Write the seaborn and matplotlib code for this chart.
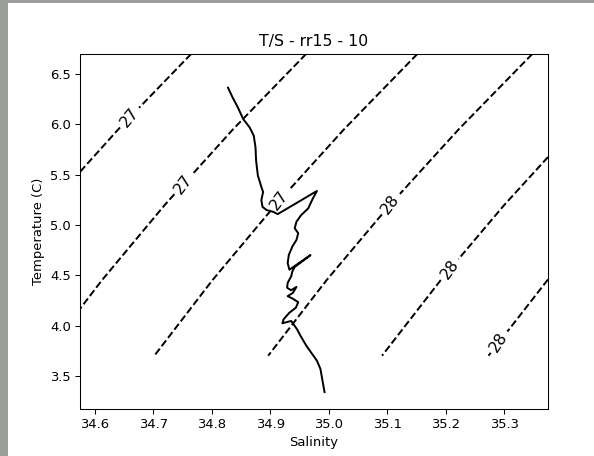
import numpy as np
import matplotlib
matplotlib.use("Agg")
import matplotlib.pyplot as plt
from matplotlib.patches import Rectangle
import seaborn as sns

# ---- profile data ----
salinity = [34.828, 34.836, 34.845, 34.854, 34.865, 34.872, 34.875, 34.876, 34.879,
            34.885, 34.888, 34.885, 34.887, 34.894, 34.905, 34.913, 34.980, 34.973,
            34.965, 34.953, 34.945, 34.942, 34.948, 34.945, 34.938, 34.932, 34.930,
            34.933, 34.969, 34.942, 34.938, 34.936, 34.930, 34.929, 34.936, 34.945,
            34.939, 34.930, 34.939, 34.948, 34.944, 34.933, 34.923, 34.921, 34.929,
            34.936, 34.942, 34.946, 34.952, 34.962, 34.972, 34.980, 34.986, 34.989,
            34.993]
temperature = [6.365, 6.266, 6.167, 6.053, 5.970, 5.888, 5.772, 5.641, 5.493,
               5.378, 5.328, 5.246, 5.180, 5.148, 5.131, 5.108, 5.338, 5.263,
               5.164, 5.098, 5.032, 4.967, 4.918, 4.851, 4.785, 4.703, 4.621,
               4.555, 4.700, 4.582, 4.538, 4.489, 4.424, 4.375, 4.351, 4.384,
               4.325, 4.292, 4.266, 4.232, 4.177, 4.128, 4.062, 4.022, 4.035,
               4.045, 3.996, 3.963, 3.897, 3.798, 3.716, 3.650, 3.568, 3.469,
               3.338]

# ---- density grid extent and contour levels ----
grid_salinity = [34.575, 34.675, 34.775, 34.875, 34.975, 35.075, 35.175, 35.275, 35.375]
grid_temperature = [3.70, 4.45, 5.20, 5.95, 6.70]
sigma_levels = [27.275, 27.43, 27.58, 27.735, 27.89, 28.035]
sigma_labels = ["27", "27", "27", "28", "28", "28"]

title = "T/S - rr15 - 10"
xlabel = "Salinity"
ylabel = "Temperature (C)"

# where the contour labels sit (salinity, temperature)
label_spots = [(34.660, 6.066), (34.750, 5.414), (34.916, 5.246),
               (35.109, 5.197), (35.207, 4.555), (35.297, 3.815)]


def sigma_t(S, T):
    """UNESCO (1981) density of seawater at p=0, minus 1000."""
    rw = (999.842594 + 6.793952e-2 * T - 9.095290e-3 * T**2 + 1.001685e-4 * T**3
          - 1.120083e-6 * T**4 + 6.536332e-9 * T**5)
    A = (8.24493e-1 - 4.0899e-3 * T + 7.6438e-5 * T**2 - 8.2467e-7 * T**3
         + 5.3875e-9 * T**4)
    B = -5.72466e-3 + 1.0227e-4 * T - 1.6546e-6 * T**2
    C = 4.8314e-4
    return rw + A * S + B * S**1.5 + C * S**2 - 1000.0


DPI = 94.4
fig = plt.figure(figsize=(594 / DPI, 456 / DPI), dpi=DPI)
fig.patch.set_facecolor("white")
ax = fig.add_axes([80 / 594, 1 - 409 / 456, 468 / 594, 355 / 456])

SS, TT = np.meshgrid(np.array(grid_salinity), np.array(grid_temperature))
dens = sigma_t(SS, TT)
cs = ax.contour(SS, TT, dens, levels=sigma_levels, colors="k", linestyles="dashed")
ax.clabel(cs, fontsize=12, inline=True, fmt=dict(zip(cs.levels, sigma_labels)),
          manual=label_spots)

sns.lineplot(x=salinity, y=temperature, sort=False, estimator=None, color="k",
             linewidth=1.5, ax=ax)

ax.set_title(title, fontsize=12)
ax.set_xlabel(xlabel)
ax.set_ylabel(ylabel)
ax.set_xticks([34.6, 34.7, 34.8, 34.9, 35.0, 35.1, 35.2, 35.3])
ax.set_xlim(grid_salinity[0], grid_salinity[-1])

# grey frame strips of the screenshot
fig.patches.append(Rectangle((0, 0), 8 / 594, 1, transform=fig.transFigure,
                             facecolor="#9c9f9a", edgecolor="none", zorder=-1))
fig.patches.append(Rectangle((0, 1 - 3 / 456), 1, 3 / 456, transform=fig.transFigure,
                             facecolor="#9c9f9a", edgecolor="none", zorder=-1))

fig.savefig("out.png", dpi=DPI)
